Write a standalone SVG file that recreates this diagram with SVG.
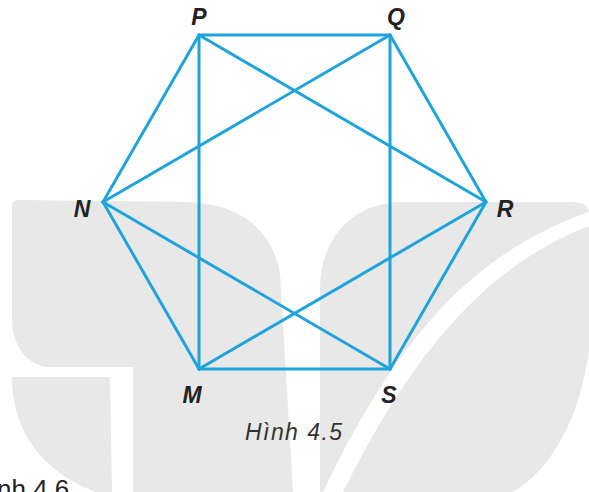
<svg xmlns="http://www.w3.org/2000/svg" width="589" height="492" viewBox="0 0 589 492">
<style>
.wm{fill:#e8e8e8;stroke:none}
.edge{stroke:#1fa3dc;stroke-width:3;stroke-linecap:round;fill:none}
.lbl{font-family:"Liberation Sans",Arial,sans-serif;font-weight:bold;font-style:italic;font-size:23px;fill:#222;text-anchor:middle}
.cap{font-family:"Liberation Sans",Arial,sans-serif;font-style:italic;font-size:23px;fill:#333}
.cap2{font-family:"Liberation Sans",Arial,sans-serif;font-size:26px;fill:#222}
</style>
<rect x="0" y="0" width="589" height="492" fill="#ffffff"/>
<g id="watermark">
<path class="wm" d="M12,206 Q12,200 18,200 L190,202 C250,205 281,240 281,290 L293,492 L133,492 L133,367 L45,367 C25,362 12,345 12,318 Z"/>
<path class="wm" d="M12,377 L110,377 L112,492 L95,492 C40,470 12,430 12,377 Z"/>
<path class="wm" d="M320,492 L320,290 C320,240 350,204 400,202 L572,202 C582,202 589,206 589,212 C480,250 400,330 323,492 Z"/>
<path class="wm" d="M343,492 C420,335 500,260 589,226 L589,350 C580,420 550,470 513,492 Z"/>
</g>
<g id="connectors">
<line class="edge" x1="199" y1="35" x2="390" y2="35"/>
<line class="edge" x1="390" y1="35" x2="486" y2="202"/>
<line class="edge" x1="486" y1="202" x2="390" y2="369"/>
<line class="edge" x1="390" y1="369" x2="199" y2="369"/>
<line class="edge" x1="199" y1="369" x2="103" y2="202"/>
<line class="edge" x1="103" y1="202" x2="199" y2="35"/>
<line class="edge" x1="199" y1="35" x2="199" y2="369"/>
<line class="edge" x1="390" y1="35" x2="390" y2="369"/>
<line class="edge" x1="199" y1="35" x2="486" y2="202"/>
<line class="edge" x1="390" y1="35" x2="103" y2="202"/>
<line class="edge" x1="103" y1="202" x2="390" y2="369"/>
<line class="edge" x1="486" y1="202" x2="199" y2="369"/>
</g>
<g id="node-P"><text class="lbl" x="199" y="25">P</text></g>
<g id="node-Q"><text class="lbl" x="396" y="25">Q</text></g>
<g id="node-R"><text class="lbl" x="505" y="217">R</text></g>
<g id="node-S"><text class="lbl" x="389" y="403">S</text></g>
<g id="node-M"><text class="lbl" x="192" y="403">M</text></g>
<g id="node-N"><text class="lbl" x="82" y="217">N</text></g>
<g id="caption"><text class="cap" x="245" y="440" textLength="97" lengthAdjust="spacing">Hình 4.5</text></g>
<g id="caption2"><text class="cap2" x="-3" y="498">nh 4.6</text></g>
</svg>
